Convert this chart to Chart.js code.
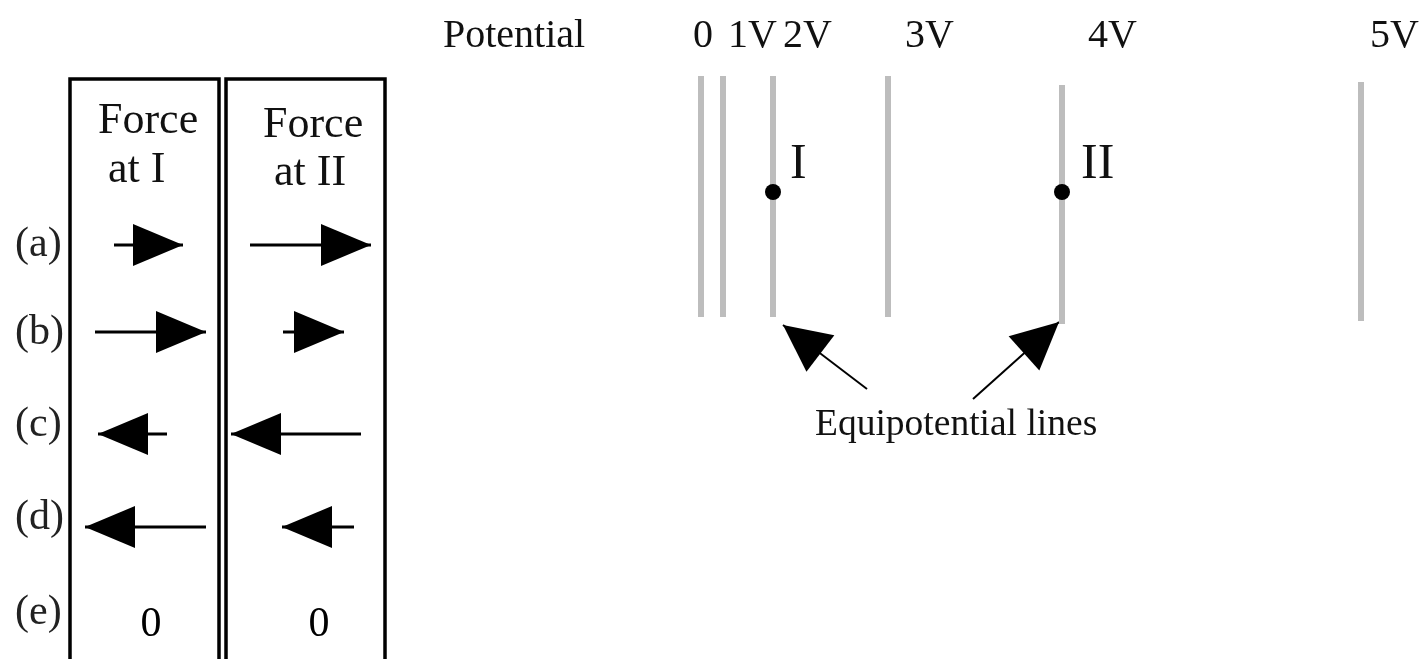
<!DOCTYPE html>
<html lang="en">
<head>
<meta charset="utf-8" />
<title>Equipotential lines</title>
<script src="https://cdn.jsdelivr.net/npm/chart.js"></script>
<style>
  html, body { margin: 0; padding: 0; background: #fff; }
  #wrap { width: 1421px; height: 659px; }
</style>
</head>
<body>
<div id="wrap"><canvas id="myChart" width="1421" height="659"></canvas></div>
<script>
// equipotential lines: label, where it sits along the field, where it starts/ends
var potentials = ['0', '1V', '2V', '3V', '4V', '5V'];
var potLabelX = [693, 728, 783, 905, 1088, 1370];
var lineX = [701, 723, 773, 888, 1062, 1361];
var lineTop = [76, 76, 76, 76, 85, 82];
var lineBottom = [317, 317, 317, 317, 324, 321];

// the two points
var pointNames = ['I', 'II'];
var pointX = [773, 1062];
var pointY = [192, 192];

// answer table, tail/tip of each force arrow (null = zero force)
var rows = ['(a)', '(b)', '(c)', '(d)', '(e)'];
var rowLabelY = [245, 333, 425, 518, 613];
var rowY = [245, 332, 434, 527, 625];
var forceITail = [114, 95, 167, 206, null];
var forceITip = [183, 206, 98, 85, null];
var forceIITail = [250, 283, 361, 354, null];
var forceIITip = [371, 344, 231, 282, null];

// pointer arrows for the "Equipotential lines" note
var noteTailX = [867, 973];
var noteTailY = [389, 399];
var noteTipX = [783, 1059];
var noteTipY = [325, 322];

var FONT = '"Liberation Serif", "DejaVu Serif", serif';

var datasets = [];

// points I and II (first, so they sit on top of the grey lines)
datasets.push({
	data: pointX.map(function (x, j) { return {x: x, y: pointY[j]}; }),
	showLine: false,
	pointRadius: 8,
	pointBackgroundColor: '#000',
	pointBorderColor: '#000',
	pointBorderWidth: 0
});

// grey equipotential lines
for (var i = 0; i < lineX.length; i++) {
	datasets.push({
		label: potentials[i],
		data: [{x: lineX[i], y: lineTop[i]}, {x: lineX[i], y: lineBottom[i]}],
		showLine: true,
		borderColor: '#bdbdbd',
		borderWidth: 6,
		borderCapStyle: 'butt',
		pointRadius: 0
	});
}

// arrow shafts in the table
function shaft(tail, tip, y) {
	datasets.push({
		data: [{x: tail, y: y}, {x: tip, y: y}],
		showLine: true,
		borderColor: '#000',
		borderWidth: 3,
		pointRadius: 0
	});
}
for (var r = 0; r < rows.length; r++) {
	if (forceITail[r] != null) shaft(forceITail[r], forceITip[r], rowY[r]);
	if (forceIITail[r] != null) shaft(forceIITail[r], forceIITip[r], rowY[r]);
}

// shafts of the note arrows
for (var k = 0; k < noteTipX.length; k++) {
	datasets.push({
		data: [{x: noteTailX[k], y: noteTailY[k]}, {x: noteTipX[k], y: noteTipY[k]}],
		showLine: true,
		borderColor: '#000',
		borderWidth: 2,
		pointRadius: 0
	});
}

function head(ctx, x1, y1, x2, y2, len, half) {
	var dx = x2 - x1, dy = y2 - y1;
	var d = Math.sqrt(dx * dx + dy * dy);
	var ux = dx / d, uy = dy / d;
	var bx = x2 - ux * len, by = y2 - uy * len;
	ctx.beginPath();
	ctx.moveTo(x2, y2);
	ctx.lineTo(bx - uy * half, by + ux * half);
	ctx.lineTo(bx + uy * half, by - ux * half);
	ctx.closePath();
	ctx.fill();
}

var drawing = {
	id: 'drawing',
	afterDraw: function (chart) {
		var ctx = chart.ctx;
		var xs = chart.scales.x, ys = chart.scales.y;
		function px(v) { return xs.getPixelForValue(v); }
		function py(v) { return ys.getPixelForValue(v); }
		function text(s, x, y, size, align) {
			ctx.font = size + 'px ' + FONT;
			ctx.textAlign = align || 'left';
			ctx.textBaseline = 'alphabetic';
			ctx.fillText(s, px(x), py(y));
		}
		ctx.save();
		ctx.fillStyle = '#111';
		ctx.strokeStyle = '#000';

		// table boxes
		ctx.lineWidth = 3.5;
		ctx.strokeRect(px(70), py(79), px(219) - px(70), py(670) - py(79));
		ctx.strokeRect(px(226), py(79), px(385) - px(226), py(670) - py(79));

		text('Force', 98, 133, 44);
		text('at I', 108, 182, 44);
		text('Force', 263, 137, 44);
		text('at II', 274, 185, 44);

		for (var r = 0; r < rows.length; r++) {
			ctx.fillStyle = '#222';
			ctx.font = '42px ' + FONT;
			ctx.textAlign = 'left';
			ctx.textBaseline = 'middle';
			ctx.fillText(rows[r], px(15), py(rowLabelY[r]));
			ctx.fillStyle = '#000';
			if (forceITail[r] != null) {
				head(ctx, px(forceITail[r]), py(rowY[r]), px(forceITip[r]), py(rowY[r]), 50, 21);
			} else {
				ctx.textAlign = 'center';
				ctx.fillText('0', px(151), py(rowY[r]));
			}
			if (forceIITail[r] != null) {
				head(ctx, px(forceIITail[r]), py(rowY[r]), px(forceIITip[r]), py(rowY[r]), 50, 21);
			} else {
				ctx.textAlign = 'center';
				ctx.fillText('0', px(319), py(rowY[r]));
			}
		}

		// potential header
		ctx.fillStyle = '#111';
		text('Potential', 443, 47, 40);
		for (var i = 0; i < potentials.length; i++) {
			text(potentials[i], potLabelX[i], 47, 40);
		}

		// point names
		text(pointNames[0], 790, 178, 50);
		text(pointNames[1], 1081, 178, 50);

		// note and its arrowheads
		text('Equipotential lines', 815, 435, 37.5);
		ctx.fillStyle = '#000';
		for (var k = 0; k < noteTipX.length; k++) {
			head(ctx, px(noteTailX[k]), py(noteTailY[k]), px(noteTipX[k]), py(noteTipY[k]), 47, 23);
		}
		ctx.restore();
	}
};

var canvas = document.getElementById('myChart');
var chart = new Chart(canvas, {
	type: 'scatter',
	data: {datasets: datasets},
	options: {
		responsive: false,
		animation: false,
		layout: {padding: 0, autoPadding: false},
		plugins: {legend: {display: false}, tooltip: {enabled: false}},
		scales: {
			x: {type: 'linear', min: 0, max: 1421, display: false},
			y: {type: 'linear', min: 0, max: 659, reverse: true, display: false}
		}
	},
	plugins: [drawing]
});
</script>
</body>
</html>
